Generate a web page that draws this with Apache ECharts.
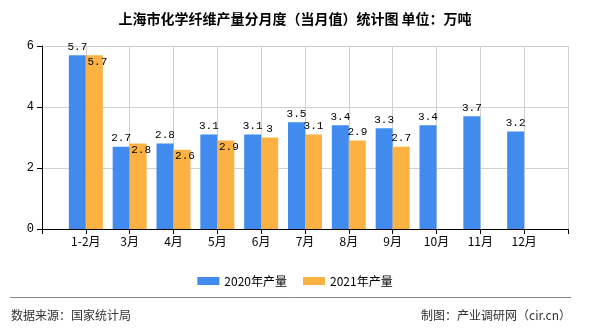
<!DOCTYPE html>
<html><head><meta charset="utf-8">
<script src="https://cdn.jsdelivr.net/npm/echarts@6/dist/echarts.min.js"></script>
<style>html,body{margin:0;padding:0;background:#fff}#c{width:590px;height:330px}</style>
</head><body><div id="c"></div>
<script>
var categories = ['1-2月','3月','4月','5月','6月','7月','8月','9月','10月','11月','12月'];
var seriesNames = ['2020年产量','2021年产量'];
var values2020 = [5.7,2.7,2.8,3.1,3.1,3.5,3.4,3.3,3.4,3.7,3.2];
var values2021 = [5.7,2.8,2.6,2.9,3.0,3.1,2.9,2.7];
var yTicks = [0,2,4,6];

var axisCats = [''].concat(categories).concat(['']);
var d2020 = [null].concat(values2020);
var d2021 = [null].concat(values2021.map(function(v,i){
  var b = values2020[i];
  var txt = String(v);
  var clash = Math.abs(b - v) < 0.25 && txt.length > 1;
  return clash ? {value:v, label:{position:'insideTop', offset:[3,-2]}} : v;
}));

var chart = echarts.init(document.getElementById('c'));
var labelFont = {fontFamily:'Liberation Mono, DejaVu Sans Mono, monospace', fontSize:11, color:'#000'};
chart.setOption({
  animation:false,
  title:{text:'上海市化学纤维产量分月度（当月值）统计图 单位：万吨', left:'center', top:7,
    textStyle:{fontSize:14, fontWeight:'bold', color:'#000', fontFamily:'Noto Sans CJK SC'}},
  legend:{top:270, left:'center', itemWidth:22, itemHeight:8, itemGap:16,
    textStyle:{fontSize:12, color:'#000', fontFamily:'Noto Sans CJK SC'}, icon:'rect'},
  grid:{left:42, right:22, top:46, bottom:101},
  xAxis:{type:'category', data:axisCats, boundaryGap:false,
    axisLine:{lineStyle:{color:'#000'}}, axisTick:{show:true, interval:0, lineStyle:{color:'#000'}},
    axisLabel:{interval:0, color:'#000', fontSize:12, fontFamily:'Noto Sans CJK SC', margin:6},
    splitLine:{show:true, interval:0, lineStyle:{color:'#d0d0d0'}}},
  yAxis:{type:'value', min:yTicks[0], max:yTicks[yTicks.length-1], interval:2,
    axisLine:{show:true, lineStyle:{color:'#000'}}, axisTick:{show:true, lineStyle:{color:'#000'}},
    axisLabel:{color:'#000', fontSize:12, fontFamily:'Liberation Mono, monospace', margin:8},
    splitLine:{lineStyle:{color:'#d0d0d0'}}},
  series:[
    {name:seriesNames[0], type:'bar', data:d2020, barWidth:17, barGap:'0%',
      itemStyle:{color:'#418bee'},
      label:{show:true, position:'top', distance:3, textStyle:labelFont}},
    {name:seriesNames[1], type:'bar', data:d2021, barWidth:17, barGap:'0%',
      itemStyle:{color:'#fbb242'},
      label:{show:true, position:'top', distance:3, textStyle:labelFont}}
  ],
  graphic:[
    {type:'line', shape:{x1:10,y1:297.5,x2:571,y2:297.5}, style:{stroke:'#888', lineWidth:1}},
    {type:'text', left:11, top:309, style:{text:'数据来源：国家统计局', fill:'#333', font:'12px "Noto Sans CJK SC"'}},
    {type:'text', right:19, top:309, style:{text:'制图：产业调研网（cir.cn）', fill:'#333', font:'12px "Noto Sans CJK SC"'}}
  ]
});
</script></body></html>
